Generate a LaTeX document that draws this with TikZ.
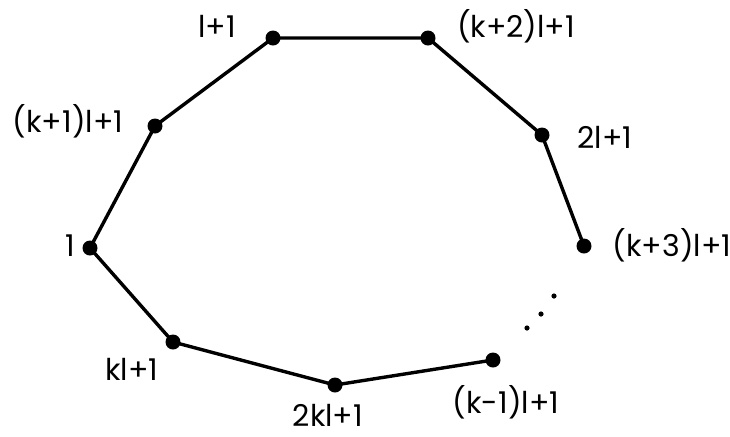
\documentclass[tikz,border=0pt]{standalone}
\usepackage{fontspec}
\setmainfont{Poppins}
\usepackage{tikz}

\tikzset{
  vertex/.style={circle, fill=black, inner sep=0pt, minimum size=7.5pt},
  vlabel/.style={inner sep=0pt, font=\fontsize{15}{18}\selectfont},
  cycleline/.style={line width=1.7pt, line join=round}
}

\begin{document}
\begin{tikzpicture}[x=0.5pt, y=-0.5pt]
        \useasboundingbox (0,0) rectangle (730,436);
        \node[vertex] (v1)  at (90,248)  {};
        \node[vertex] (vk1) at (155,126) {};
        \node[vertex] (vl)  at (273,38)  {};
        \node[vertex] (vk2) at (428,38)  {};
        \node[vertex] (v2l) at (542,135) {};
        \node[vertex] (vk3) at (584,246) {};
        \node[vertex] (vkm) at (493,360) {};
        \node[vertex] (v2k) at (335,385) {};
        \node[vertex] (vkl) at (173,342) {};

        \node[vlabel] (t1)  at (70,246)  {1};
        \node[vlabel] (tk1) at (68,121)  {(k+1)l+1};
        \node[vlabel] (tl)  at (217,26)  {l+1};
        \node[vlabel] (tk2) at (516,26)  {(k+2)l+1};
        \node[vlabel] (t2l) at (605,137) {2l+1};
        \node[vlabel] (tk3) at (672,245) {(k+3)l+1};
        \node[vlabel] (tkm) at (506,402) {(k-1)l+1};
        \node[vlabel] (t2k) at (328,415) {2kl+1};
        \node[vlabel] (tkl) at (132,369) {kl+1};

        \draw[cycleline] (vkm.center) -- (v2k.center) -- (vkl.center) -- (v1.center)
              -- (vk1.center) -- (vl.center) -- (vk2.center) -- (v2l.center) -- (vk3.center);

        % dots between (k+3)l+1 and (k-1)l+1
        \fill (554,296) circle (1.3pt);
        \fill (541,314) circle (1.3pt);
        \fill (527,328) circle (1.3pt);
\end{tikzpicture}
\end{document}
